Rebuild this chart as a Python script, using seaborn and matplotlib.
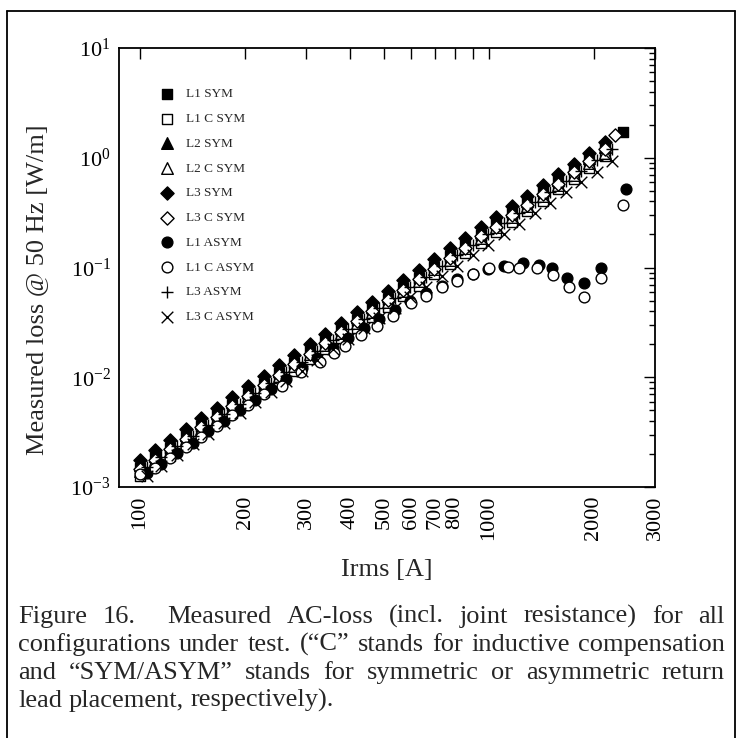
import numpy as np
import pandas as pd
import matplotlib
matplotlib.use("Agg")
import matplotlib.pyplot as plt
import seaborn as sns
from matplotlib.ticker import FixedLocator, FixedFormatter, LogLocator, NullFormatter, LogFormatterSciNotation

# ---------------- data ----------------
grid_a = [100, 110, 122, 135, 150, 166, 184, 204, 226, 250, 277, 307, 340, 377, 418, 463,
          513, 568, 630, 698, 773, 857, 950, 1050, 1165, 1290, 1430, 1585, 1755, 1945, 2155]
grid_b = [105, 115, 128, 142, 157, 174, 193, 214, 237, 262, 291, 322, 357, 396, 439, 486,
          539, 596, 662, 733, 812, 900, 998, 1103, 1223, 1355, 1502, 1664, 1843, 2042, 2263]

L1_SYM_I = grid_a + [2430]
L1_SYM_P = [0.00150, 0.00186, 0.00228, 0.00290, 0.00358, 0.00452, 0.00560, 0.00706, 0.00872, 0.0110,
            0.0136, 0.0172, 0.0212, 0.0268, 0.0331, 0.0418, 0.0516, 0.0652, 0.0808, 0.1020,
            0.126, 0.161, 0.199, 0.252, 0.313, 0.398, 0.494, 0.630, 0.780, 0.990, 1.24, 1.70]

L1_C_SYM_I = grid_a
L1_C_SYM_P = [0.00127, 0.00158, 0.00193, 0.00245, 0.00302, 0.00384, 0.00472, 0.00598, 0.00738, 0.00930,
              0.01150, 0.01452, 0.0179, 0.0227, 0.0280, 0.0355, 0.0437, 0.0552, 0.0684, 0.0865,
              0.1066, 0.135, 0.167, 0.210, 0.259, 0.330, 0.405, 0.515, 0.640, 0.810, 1.04]

L2_SYM_I = grid_a
L2_SYM_P = [0.00160, 0.00193, 0.00247, 0.00300, 0.00386, 0.00472, 0.00600, 0.00738, 0.00935, 0.01150,
            0.01455, 0.0179, 0.0227, 0.0280, 0.0356, 0.0438, 0.0554, 0.0683, 0.0866, 0.1068,
            0.135, 0.167, 0.211, 0.259, 0.328, 0.405, 0.512, 0.632, 0.800, 0.985, 1.25]

L2_C_SYM_I = grid_a
L2_C_SYM_P = [0.00139, 0.00175, 0.00214, 0.00273, 0.00335, 0.00427, 0.00524, 0.00668, 0.00819, 0.01036,
              0.01275, 0.01618, 0.0198, 0.0253, 0.0311, 0.0395, 0.0485, 0.0615, 0.0758, 0.0962,
              0.118, 0.150, 0.185, 0.233, 0.287, 0.365, 0.449, 0.570, 0.700, 0.887, 1.10]

L3_SYM_I = grid_a
L3_SYM_P = [0.00176, 0.00218, 0.00270, 0.00335, 0.00425, 0.00530, 0.00660, 0.00830, 0.01030, 0.01290,
            0.01600, 0.0201, 0.0250, 0.0314, 0.0392, 0.0490, 0.0610, 0.0765, 0.0955, 0.1195,
            0.149, 0.186, 0.233, 0.289, 0.362, 0.452, 0.566, 0.707, 0.880, 1.10, 1.38]

L3_C_SYM_I = grid_a + [2300]
L3_C_SYM_P = [0.00146, 0.00177, 0.00224, 0.00276, 0.00350, 0.00432, 0.00545, 0.00675, 0.00850, 0.01050,
              0.01322, 0.0164, 0.0206, 0.0256, 0.0323, 0.0400, 0.0503, 0.0624, 0.0786, 0.0976,
              0.1225, 0.152, 0.192, 0.236, 0.298, 0.370, 0.466, 0.578, 0.738, 0.925, 1.20, 1.62]

L1_ASYM_I = [105, 115, 128, 142, 157, 174, 193, 214, 237, 262, 291, 322, 357, 396, 439, 486,
             539, 596, 662, 733, 812, 900, 998, 1103, 1252, 1390, 1520, 1680, 1875, 2098, 2480]
L1_ASYM_P = [0.00133, 0.00163, 0.00206, 0.00254, 0.00321, 0.00398, 0.00502, 0.00622, 0.00782, 0.00968,
             0.0121, 0.0150, 0.0186, 0.0227, 0.0281, 0.0339, 0.0410, 0.0492, 0.0580, 0.0680,
             0.0780, 0.0880, 0.0970, 0.104, 0.111, 0.106, 0.098, 0.081, 0.073, 0.100, 0.52]

L1_C_ASYM_I = [100, 110, 122, 135, 150, 166, 184, 204, 226, 256, 290, 329, 360, 388, 429, 477,
               530, 597, 659, 733, 809, 899, 1000, 1133, 1220, 1374, 1527, 1698, 1875, 2098, 2427]
L1_C_ASYM_P = [0.00131, 0.00148, 0.00184, 0.00231, 0.00287, 0.00361, 0.00449, 0.00562, 0.00699, 0.00830,
               0.0112, 0.0137, 0.0165, 0.0191, 0.0241, 0.0291, 0.0359, 0.0470, 0.0545, 0.0670,
               0.0760, 0.0880, 0.0980, 0.101, 0.100, 0.098, 0.085, 0.066, 0.054, 0.081, 0.37]

L3_ASYM_I = grid_b
L3_ASYM_P = [0.00153, 0.00189, 0.00234, 0.00294, 0.00367, 0.00461, 0.00571, 0.00720, 0.00892, 0.01118,
             0.0139, 0.0175, 0.0217, 0.0273, 0.0339, 0.0426, 0.0528, 0.0664, 0.0825, 0.1040,
             0.129, 0.162, 0.201, 0.252, 0.313, 0.394, 0.488, 0.615, 0.762, 0.960, 1.19]

L3_C_ASYM_I = grid_b
L3_C_ASYM_P = [0.00125, 0.00156, 0.00194, 0.00244, 0.00304, 0.00382, 0.00474, 0.00597, 0.00740, 0.00928,
               0.01152, 0.0145, 0.0179, 0.0225, 0.0279, 0.0349, 0.0432, 0.0541, 0.0670, 0.0838,
               0.1035, 0.130, 0.161, 0.202, 0.249, 0.312, 0.386, 0.486, 0.598, 0.748, 0.93]

series_labels = ["L1 SYM", "L1 C SYM", "L2 SYM", "L2 C SYM", "L3 SYM", "L3 C SYM",
                 "L1 ASYM", "L1 C ASYM", "L3 ASYM", "L3 C ASYM"]
series_I = [L1_SYM_I, L1_C_SYM_I, L2_SYM_I, L2_C_SYM_I, L3_SYM_I, L3_C_SYM_I,
            L1_ASYM_I, L1_C_ASYM_I, L3_ASYM_I, L3_C_ASYM_I]
series_P = [L1_SYM_P, L1_C_SYM_P, L2_SYM_P, L2_C_SYM_P, L3_SYM_P, L3_C_SYM_P,
            L1_ASYM_P, L1_C_ASYM_P, L3_ASYM_P, L3_C_ASYM_P]

x_tick_values = [100, 200, 300, 400, 500, 600, 700, 800, 1000, 2000, 3000]
x_tick_labels = ["100", "200", "300", "400", "500", "600", "700", "800", "1000", "2000", "3000"]

caption_lines = [
    "Figure 16.  Measured AC-loss (incl. joint resistance) for all",
    "configurations under test. (\u201cC\u201d stands for inductive compensation",
    "and \u201cSYM/ASYM\u201d stands for symmetric or asymmetric return",
    "lead placement, respectively).",
]

# ---------------- style ----------------
sns.set_style("white")
SERIF = "Liberation Serif"
plt.rcParams["font.family"] = [SERIF, "DejaVu Serif"]
plt.rcParams["mathtext.fontset"] = "stix"

markers = ["s", "s", "^", "^", "D", "D", "o", "o", "+", "x"]
filled = [True, False, True, False, True, False, True, False, None, None]
sizes = [60, 60, 70, 70, 45, 45, 60, 60, 80, 70]

W, H = 742, 738
fig = plt.figure(figsize=(W / 100, H / 100), dpi=100)
fig.patch.set_facecolor("white")

ax_l, ax_r, ax_t, ax_b = 119, 655, 48, 487
ax = fig.add_axes([ax_l / W, 1 - ax_b / H, (ax_r - ax_l) / W, (ax_b - ax_t) / H])

for lab, I, P, mk, fl, sz in zip(series_labels, series_I, series_P, markers, filled, sizes):
    df = pd.DataFrame({"Irms": I, "loss": P})
    kw = dict(marker=mk, s=sz, linewidth=1.0)
    if fl is True:
        kw.update(color="black", edgecolor="black")
    elif fl is False:
        kw.update(color="black", facecolor="white", edgecolor="black")
    else:
        kw.update(color="black")
    sns.scatterplot(data=df, x="Irms", y="loss", ax=ax, label=lab, legend=False, **kw)

ax.set_xscale("log")
ax.set_yscale("log")
ax.set_xlim(87, 3000)
ax.set_ylim(1e-3, 1e1)

ax.xaxis.set_major_locator(FixedLocator(x_tick_values))
ax.xaxis.set_major_formatter(FixedFormatter(x_tick_labels))
ax.xaxis.set_minor_locator(FixedLocator([900]))
ax.xaxis.set_minor_formatter(NullFormatter())
ax.yaxis.set_major_locator(LogLocator(base=10, numticks=10))
ax.yaxis.set_major_formatter(LogFormatterSciNotation())
ax.yaxis.set_minor_locator(LogLocator(base=10, subs=np.arange(2, 10), numticks=20))
ax.yaxis.set_minor_formatter(NullFormatter())

ax.tick_params(which="both", direction="in", top=True, right=True, colors="black", width=1.0)
ax.tick_params(which="major", length=8, labelsize=16, pad=6)
ax.tick_params(which="minor", length=4)
ax.tick_params(axis="x", which="major", labelrotation=90, length=8)
ax.tick_params(axis="x", which="minor", length=8)
for sp in ax.spines.values():
    sp.set_color("black")
    sp.set_linewidth(1.3)

ax.set_xlabel("Irms [A]", fontsize=19)
ax.set_ylabel("Measured loss @ 50 Hz [W/m]", fontsize=19)
ax.xaxis.set_label_coords(0.5, -0.165)
ax.yaxis.set_label_coords(-0.132, 0.45)

leg = ax.legend(loc="upper left", bbox_to_anchor=(0.057, 0.93), frameon=False, fontsize=9.5,
                labelspacing=0.95, handletextpad=0.9, borderpad=0.2, handlelength=1.2,
                scatterpoints=1)

# outer border (open at the bottom)
bx0, bx1, by0 = 7 / W, 735 / W, 1 - 11 / H
fig.add_artist(plt.Line2D([bx0, bx0], [-0.01, by0], transform=fig.transFigure, color="black", lw=1.3))
fig.add_artist(plt.Line2D([bx1, bx1], [-0.01, by0], transform=fig.transFigure, color="black", lw=1.3))
fig.add_artist(plt.Line2D([bx0, bx1], [by0, by0], transform=fig.transFigure, color="black", lw=1.3))

# justified caption
fig.canvas.draw()
renderer = fig.canvas.get_renderer()
CAP_FS = 19
cap_x0, cap_x1 = 18, 725
baselines = [623, 651, 679, 707]


def place_line(text, y_px, justify):
    raw = text.split(" ")
    words, gaps = [], []
    pending = 0
    for tok in raw:
        if tok == "":
            pending += 1
            continue
        if words:
            gaps.append(1 + pending)
        pending = 0
        words.append(tok)
    arts = [fig.text(0, 1 - y_px / H, w, fontsize=CAP_FS, va="baseline", ha="left") for w in words]
    widths = [a.get_window_extent(renderer).width for a in arts]
    sp = fig.text(0, 0, "a a", fontsize=CAP_FS)
    sp2 = fig.text(0, 0, "aa", fontsize=CAP_FS)
    space = sp.get_window_extent(renderer).width - sp2.get_window_extent(renderer).width
    sp.remove(); sp2.remove()
    if justify and gaps:
        unit = (cap_x1 - cap_x0 - sum(widths)) / sum(gaps)
    else:
        unit = space
    x = cap_x0
    for i, (a, w) in enumerate(zip(arts, widths)):
        a.set_x(x / W)
        x += w
        if i < len(gaps):
            x += unit * gaps[i]


for i, line in enumerate(caption_lines):
    place_line(line, baselines[i], justify=(i < len(caption_lines) - 1))

fig.savefig("out.png", dpi=100, facecolor="white")
